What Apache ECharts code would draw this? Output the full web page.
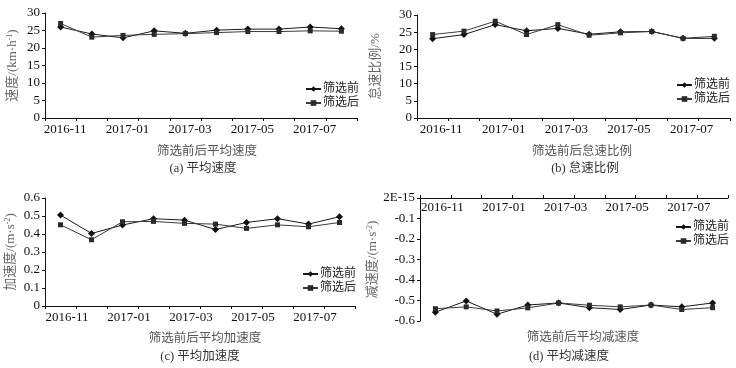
<!DOCTYPE html>
<html>
<head>
<meta charset="utf-8">
<script src="https://cdn.jsdelivr.net/npm/echarts@6/dist/echarts.min.js"></script>
<style>
html,body{margin:0;padding:0;background:#fff;}
#main{width:736px;height:368px;}
</style>
</head>
<body>
<div id="main"></div>
<script>
var months = ['2016-11','2016-12','2017-01','2017-02','2017-03','2017-04','2017-05','2017-06','2017-07','2017-08'];
var seriesNames = ['筛选前', '筛选后'];
// (a) 平均速度
var speedBefore = [26.0, 24.0, 22.9, 24.9, 24.2, 25.1, 25.4, 25.4, 26.0, 25.5];
var speedAfter  = [27.0, 23.1, 23.6, 23.9, 24.1, 24.4, 24.7, 24.7, 24.9, 24.8];
// (b) 怠速比例
var idleBefore = [23.1, 24.3, 27.2, 25.4, 26.1, 24.4, 25.1, 25.2, 23.2, 23.2];
var idleAfter  = [24.3, 25.3, 28.2, 24.3, 27.2, 24.1, 24.8, 25.2, 23.2, 23.8];
// (c) 平均加速度
var accBefore = [0.505, 0.403, 0.450, 0.485, 0.477, 0.425, 0.464, 0.485, 0.455, 0.496];
var accAfter  = [0.451, 0.368, 0.468, 0.470, 0.459, 0.455, 0.431, 0.451, 0.440, 0.464];
// (d) 平均减速度
var decBefore = [-0.557, -0.502, -0.567, -0.522, -0.512, -0.535, -0.544, -0.522, -0.531, -0.512];
var decAfter  = [-0.540, -0.531, -0.551, -0.536, -0.512, -0.523, -0.531, -0.522, -0.544, -0.535];

var FONT = '"Liberation Serif", "Noto Sans CJK SC", serif';
var AXIS_COLOR = '#111';

function xAxisOf(gridIndex, padLeft, onTop) {
    return {
        type: 'category',
        gridIndex: gridIndex,
        data: months,
        position: onTop ? 'top' : 'bottom',
        axisLine: { show: true, lineStyle: { color: AXIS_COLOR, width: 1 } },
        axisTick: { show: true, interval: 0, length: 3, inside: false, lineStyle: { color: AXIS_COLOR } },
        axisLabel: {
            interval: 1,
            inside: !!onTop,
            margin: onTop ? 3 : 5,
            fontFamily: FONT,
            fontSize: 13,
            color: '#111',
            padding: [0, 0, 0, padLeft]
        },
        splitLine: { show: false }
    };
}

function yAxisOf(gridIndex, min, max, interval, name, nameGap, formatter) {
    return {
        type: 'value',
        gridIndex: gridIndex,
        min: min,
        max: max,
        interval: interval,
        name: name,
        nameLocation: 'middle',
        nameGap: nameGap,
        nameTextStyle: {
            fontFamily: FONT,
            fontSize: 13,
            color: '#666',
            rich: {
                sup: { fontSize: 8, verticalAlign: 'top', color: '#666', fontFamily: FONT }
            }
        },
        axisLine: { show: true, lineStyle: { color: AXIS_COLOR, width: 1 } },
        axisTick: { show: true, length: 3, lineStyle: { color: AXIS_COLOR } },
        axisLabel: {
            margin: 5,
            fontFamily: FONT,
            fontSize: 13,
            color: '#111',
            formatter: formatter
        },
        splitLine: { show: false }
    };
}

function lineOf(name, idx, data) {
    var isBefore = name === seriesNames[0];
    return {
        name: name,
        type: 'line',
        xAxisIndex: idx,
        yAxisIndex: idx,
        data: data,
        symbol: isBefore ? 'diamond' : 'rect',
        symbolSize: isBefore ? 7 : 5,
        itemStyle: { color: isBefore ? '#111' : '#2a2a2a' },
        lineStyle: { color: isBefore ? '#1a1a1a' : '#3a3a3a', width: 1 },
        animation: false
    };
}

function legendOf(left, top) {
    return {
        data: seriesNames,
        orient: 'vertical',
        left: left,
        top: top,
        padding: 0,
        itemGap: 2,
        itemWidth: 15,
        itemHeight: 7,
        textStyle: { fontFamily: FONT, fontSize: 12, color: '#222', padding: [0, 0, 0, -3] }
    };
}

function label(text, x, y, size, color) {
    return {
        type: 'text',
        x: x,
        y: y,
        style: {
            text: text,
            align: 'center',
            verticalAlign: 'middle',
            fontFamily: FONT,
            fontSize: size,
            fill: color
        }
    };
}

var option = {
    animation: false,
    grid: [
        { left: 45, top: 13, width: 312, height: 105 },
        { left: 417, top: 15, width: 313, height: 103 },
        { left: 45, top: 198, width: 310, height: 108 },
        { left: 420, top: 198, width: 308, height: 123 }
    ],
    xAxis: [
        xAxisOf(0, 9, false),
        xAxisOf(1, 17, false),
        xAxisOf(2, 13, false),
        xAxisOf(3, 14, true)
    ],
    yAxis: [
        yAxisOf(0, 0, 30, 5, '速度/(km·h{sup|-1})', 26),
        yAxisOf(1, 0, 30, 5, '怠速比例/%', 35),
        yAxisOf(2, 0, 0.6, 0.1, '加速度/(m·s{sup|-2})', 28),
        yAxisOf(3, -0.6, 0, 0.1, '减速度/(m·s{sup|-2})', 32, function (v) {
            return v === 0 ? '2E-15' : String(v);
        })
    ],
    legend: [
        legendOf(305, 83),
        legendOf(676, 79),
        legendOf(302, 268),
        legendOf(675, 221)
    ],
    series: [
        lineOf('筛选前', 0, speedBefore),
        lineOf('筛选后', 0, speedAfter),
        lineOf('筛选前', 1, idleBefore),
        lineOf('筛选后', 1, idleAfter),
        lineOf('筛选前', 2, accBefore),
        lineOf('筛选后', 2, accAfter),
        lineOf('筛选前', 3, decBefore),
        lineOf('筛选后', 3, decAfter)
    ],
    graphic: [
        label('筛选前后平均速度', 207, 152, 12.5, '#555'),
        label('(a) 平均速度', 203, 169, 12.5, '#333'),
        label('筛选前后怠速比例', 582, 152, 12.5, '#555'),
        label('(b) 怠速比例', 585, 169, 12.5, '#333'),
        label('筛选前后平均加速度', 205, 339, 12.5, '#555'),
        label('(c) 平均加速度', 200, 357, 12.5, '#333'),
        label('筛选前后平均减速度', 583, 338, 12.5, '#555'),
        label('(d) 平均减速度', 569, 357, 12.5, '#333')
    ]
};

var chart = echarts.init(document.getElementById('main'));
chart.setOption(option);
window.addEventListener('resize', function () {
    chart.resize();
});
</script>
</body>
</html>
